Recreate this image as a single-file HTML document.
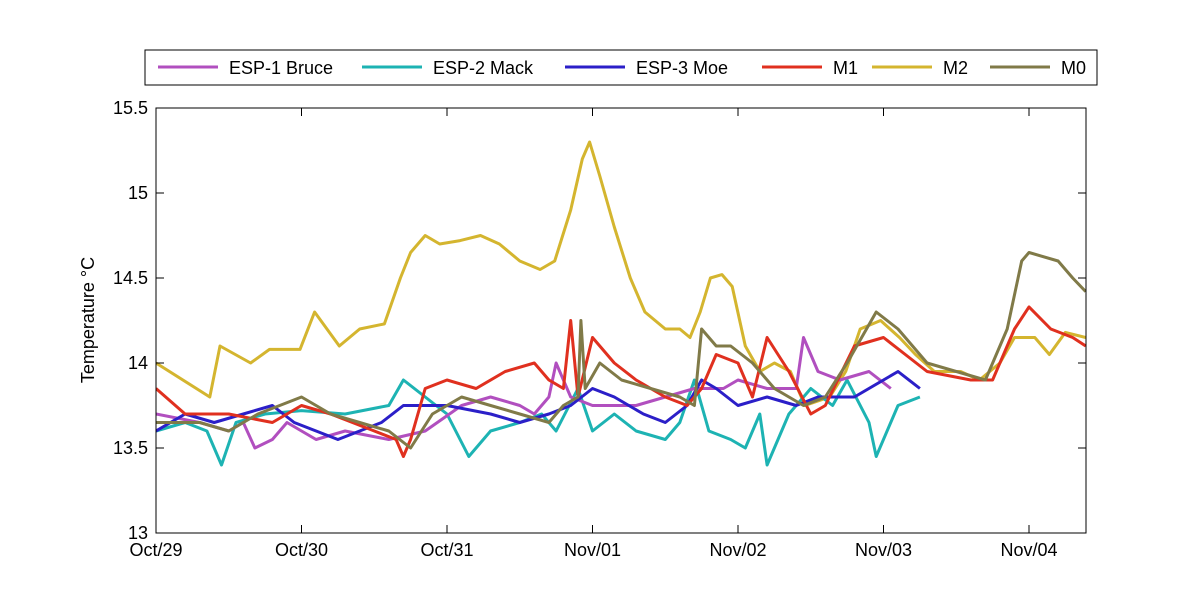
<!DOCTYPE html>
<html><head><meta charset="utf-8"><style>
body{margin:0;background:#fff;}
svg{display:block;font-family:"Liberation Sans",Arial,sans-serif;}
</style></head><body>
<svg id="chart" width="1200" height="600"></svg>
<script>
const yTicks=[13,13.5,14,14.5,15,15.5];
const xTickLabels=["Oct/29","Oct/30","Oct/31","Nov/01","Nov/02","Nov/03","Nov/04"];
const seriesNames=["ESP-1 Bruce","ESP-2 Mack","ESP-3 Moe","M1","M2","M0"];
const bruceT=[0,0.3,0.5,0.6,0.68,0.8,0.9,1.1,1.3,1.6,1.85,2.1,2.3,2.5,2.6,2.7,2.75,2.85,3.0,3.3,3.5,3.7,3.9,4.0,4.2,4.4,4.45,4.55,4.7,4.9,5.05];
const bruceV=[13.7,13.65,13.6,13.65,13.5,13.55,13.65,13.55,13.6,13.55,13.6,13.75,13.8,13.75,13.7,13.8,14.0,13.8,13.75,13.75,13.8,13.85,13.85,13.9,13.85,13.85,14.15,13.95,13.9,13.95,13.85];
const mackT=[0,0.2,0.35,0.45,0.55,0.75,1.0,1.3,1.6,1.7,1.85,2.0,2.15,2.3,2.5,2.65,2.75,2.9,3.0,3.15,3.3,3.5,3.6,3.7,3.8,3.95,4.05,4.15,4.2,4.35,4.5,4.65,4.75,4.9,4.95,5.1,5.25];
const mackV=[13.6,13.65,13.6,13.4,13.65,13.7,13.72,13.7,13.75,13.9,13.8,13.7,13.45,13.6,13.65,13.7,13.6,13.85,13.6,13.7,13.6,13.55,13.65,13.9,13.6,13.55,13.5,13.7,13.4,13.7,13.85,13.75,13.9,13.65,13.45,13.75,13.8];
const moeT=[0,0.2,0.4,0.6,0.8,0.95,1.1,1.25,1.4,1.55,1.7,2.0,2.3,2.5,2.7,2.85,3.0,3.15,3.35,3.5,3.65,3.75,3.85,4.0,4.2,4.4,4.55,4.8,5.0,5.1,5.25];
const moeV=[13.6,13.7,13.65,13.7,13.75,13.65,13.6,13.55,13.6,13.65,13.75,13.75,13.7,13.65,13.7,13.75,13.85,13.8,13.7,13.65,13.75,13.9,13.85,13.75,13.8,13.75,13.8,13.8,13.9,13.95,13.85];
const m1T=[0,0.2,0.5,0.8,1.0,1.2,1.5,1.65,1.7,1.75,1.85,2.0,2.2,2.4,2.6,2.7,2.8,2.85,2.9,3.0,3.15,3.3,3.5,3.65,3.75,3.85,4.0,4.1,4.2,4.35,4.5,4.6,4.8,5.0,5.15,5.3,5.6,5.75,5.9,6.0,6.15,6.3,6.39];
const m1V=[13.85,13.7,13.7,13.65,13.75,13.7,13.6,13.55,13.45,13.55,13.85,13.9,13.85,13.95,14.0,13.9,13.85,14.25,13.8,14.15,14.0,13.9,13.8,13.75,13.85,14.05,14.0,13.8,14.15,13.95,13.7,13.75,14.1,14.15,14.05,13.95,13.9,13.9,14.2,14.33,14.2,14.15,14.1];
const m2T=[0,0.37,0.44,0.65,0.78,0.99,1.09,1.26,1.40,1.57,1.68,1.75,1.85,1.95,2.09,2.23,2.36,2.50,2.64,2.74,2.85,2.93,2.98,3.05,3.15,3.26,3.36,3.50,3.60,3.67,3.74,3.81,3.89,3.96,4.05,4.15,4.25,4.36,4.46,4.63,4.74,4.84,4.98,5.11,5.22,5.35,5.53,5.66,5.80,5.90,6.04,6.14,6.25,6.39];
const m2V=[14.0,13.8,14.1,14.0,14.08,14.08,14.3,14.1,14.2,14.23,14.5,14.65,14.75,14.7,14.72,14.75,14.7,14.6,14.55,14.6,14.9,15.2,15.3,15.1,14.8,14.5,14.3,14.2,14.2,14.15,14.3,14.5,14.52,14.45,14.1,13.95,14.0,13.95,13.75,13.8,13.95,14.2,14.25,14.15,14.05,13.95,13.95,13.9,14.0,14.15,14.15,14.05,14.18,14.15];
const m0T=[0,0.3,0.5,0.7,1.0,1.2,1.4,1.6,1.75,1.9,2.1,2.3,2.5,2.7,2.8,2.9,2.92,2.95,3.05,3.2,3.4,3.6,3.7,3.75,3.85,3.95,4.1,4.25,4.45,4.6,4.75,4.95,5.1,5.3,5.5,5.7,5.85,5.95,6.0,6.2,6.3,6.39];
const m0V=[13.65,13.65,13.6,13.7,13.8,13.7,13.65,13.6,13.5,13.7,13.8,13.75,13.7,13.65,13.75,13.8,14.25,13.85,14.0,13.9,13.85,13.8,13.75,14.2,14.1,14.1,14.0,13.85,13.75,13.8,14.0,14.3,14.2,14.0,13.95,13.9,14.2,14.6,14.65,14.6,14.5,14.42];

const NS="http://www.w3.org/2000/svg";
const svg=document.getElementById('chart');
const L=156,R=1086,T=108,B=533,dayPx=145.5;
const xS=d=>L+d*dayPx;
const yS=v=>B-(v-13)*(B-T)/2.5;
function mk(tag,attrs,parent){const e=document.createElementNS(NS,tag);for(const k in attrs)e.setAttribute(k,attrs[k]);(parent||svg).appendChild(e);return e;}

// series
const seriesData=[[bruceT,bruceV,"#b14fbf"],[mackT,mackV,"#1db3b3"],[moeT,moeV,"#2b1fc8"],[m1T,m1V,"#e0301f"],[m2T,m2V,"#d4b52f"],[m0T,m0V,"#807a48"]];
const order=[4,1,0,2,3,5];
const clip=mk('clipPath',{id:'pc'});mk('rect',{x:L,y:T,width:R-L,height:B-T},clip);
order.forEach(i=>{
  const [t,v,c]=seriesData[i];
  const d=t.map((tt,k)=>(k?'L':'M')+xS(tt).toFixed(1)+','+yS(v[k]).toFixed(1)).join('');
  const p=mk('path',{d:d,fill:'none',stroke:c,'stroke-width':3,'stroke-linejoin':'round','clip-path':'url(#pc)'});
  
  
});

// axes box
const box=mk('rect',{x:L,y:T,width:R-L,height:B-T,fill:'none',stroke:'#000','stroke-width':1});


yTicks.forEach(v=>{
  const y=yS(v);
  mk('line',{x1:L,x2:L+8,y1:y,y2:y,stroke:'#000'});
  mk('line',{x1:R,x2:R-8,y1:y,y2:y,stroke:'#000'});
  const t=mk('text',{x:L-8,y:y+6,'text-anchor':'end','font-size':18});
  t.textContent=String(v);
  
  
});
xTickLabels.forEach((lab,i)=>{
  const x=xS(i);
  mk('line',{x1:x,x2:x,y1:B,y2:B-8,stroke:'#000'});
  mk('line',{x1:x,x2:x,y1:T,y2:T+8,stroke:'#000'});
  const t=mk('text',{x:x,y:B+23,'text-anchor':'middle','font-size':18});
  t.textContent=lab;
  
  
});
const yt=mk('text',{x:94,y:320,'text-anchor':'middle','font-size':18,transform:'rotate(-90 94 320)'});
yt.textContent='Temperature °C';



// legend
const lg=mk('g',{});


mk('rect',{x:145,y:50,width:952,height:35,fill:'#fff',stroke:'#000'},lg);
const lx=[158,362,565,762,872,990];
seriesNames.forEach((n,i)=>{
  const g=mk('g',{},lg);
  
  
  mk('line',{x1:lx[i],x2:lx[i]+60,y1:67,y2:67,stroke:seriesData[i][2],'stroke-width':3},g);
  const t=mk('text',{x:lx[i]+71,y:74,'font-size':18},g);
  t.textContent=n;
});
</script>
</body></html>
